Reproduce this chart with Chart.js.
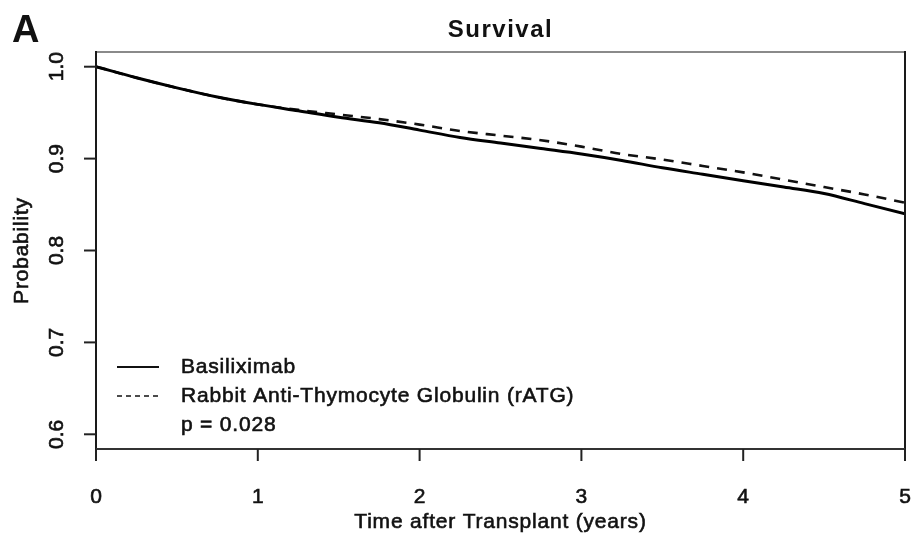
<!DOCTYPE html>
<html>
<head>
<meta charset="utf-8">
<title>Survival</title>
<script src="https://cdn.jsdelivr.net/npm/chart.js@4"></script>
<style>
  html, body { margin: 0; padding: 0; background: #fff; }
  canvas { display: block; }
</style>
</head>
<body>
<canvas id="survivalChart" width="912" height="540"></canvas>
<script>
// Kaplan-Meier estimates, sampled every quarter year
const years = [0, 0.25, 0.5, 0.75, 1, 1.25, 1.5, 1.75, 2, 2.25, 2.5, 2.75, 3, 3.25, 3.5, 3.75, 4, 4.25, 4.5, 4.75, 5];
const basiliximab = [1.000, 0.988, 0.977, 0.967, 0.959, 0.952, 0.945, 0.939, 0.931, 0.923, 0.917, 0.911, 0.905, 0.898, 0.890, 0.883, 0.876, 0.869, 0.862, 0.851, 0.840];
const ratg = [1.000, 0.988, 0.977, 0.967, 0.959, 0.953, 0.948, 0.943, 0.937, 0.930, 0.925, 0.920, 0.913, 0.905, 0.899, 0.892, 0.885, 0.877, 0.869, 0.861, 0.852];

const xTicks = [0, 1, 2, 3, 4, 5];
const yTicks = [0.6, 0.7, 0.8, 0.9, 1.0];
const yTickLabels = ['0.6', '0.7', '0.8', '0.9', '1.0'];

const seriesNames = ['Basiliximab', 'Rabbit Anti-Thymocyte Globulin (rATG)'];
const pValueText = 'p = 0.028';

const FONT = '"Liberation Sans", Arial, Helvetica, sans-serif';

function toPoints(xs, ys) {
    return xs.map((x, i) => ({ x: x, y: ys[i] }));
}

function setSpacing(ctx, px) {
    if ('letterSpacing' in ctx) ctx.letterSpacing = px + 'px';
}

// fill plus a thin outline so the text reads a little heavier
function heavyText(ctx, str, x, y) {
    ctx.save();
    ctx.lineWidth = 0.6;
    ctx.strokeStyle = ctx.fillStyle;
    ctx.setLineDash([]);
    ctx.strokeText(str, x, y);
    ctx.fillText(str, x, y);
    ctx.restore();
}

// R-style frame, ticks, labels and legend drawn on top of the chart
const rStylePlot = {
    id: 'rStylePlot',
    afterDraw(chart) {
        const ctx = chart.ctx;
        const area = chart.chartArea;
        const xs = chart.scales.x;
        const ys = chart.scales.y;

        ctx.save();

        // plot box
        ctx.lineCap = 'butt';
        ctx.strokeStyle = '#8a8a8a';
        ctx.lineWidth = 2;
        ctx.beginPath();
        ctx.moveTo(area.left, area.top);
        ctx.lineTo(area.right, area.top);
        ctx.stroke();

        ctx.strokeStyle = '#1a1a1a';
        ctx.beginPath();
        ctx.moveTo(area.left, area.top - 1);
        ctx.lineTo(area.left, area.bottom + 1);
        ctx.moveTo(area.right, area.top - 1);
        ctx.lineTo(area.right, area.bottom + 1);
        ctx.stroke();

        ctx.strokeStyle = '#333';
        ctx.beginPath();
        ctx.moveTo(area.left, area.bottom);
        ctx.lineTo(area.right, area.bottom);
        ctx.stroke();

        // x axis ticks and labels
        ctx.strokeStyle = '#222';
        ctx.fillStyle = '#111';
        ctx.font = '21px ' + FONT;
        ctx.textAlign = 'center';
        ctx.textBaseline = 'middle';
        xTicks.forEach(t => {
            const px = xs.getPixelForValue(t);
            ctx.beginPath();
            ctx.moveTo(px, area.bottom);
            ctx.lineTo(px, area.bottom + 12);
            ctx.stroke();
            heavyText(ctx, String(t), px, area.bottom + 48);
        });

        // y axis ticks and rotated labels
        yTicks.forEach((v, i) => {
            const py = ys.getPixelForValue(v);
            ctx.beginPath();
            ctx.moveTo(area.left, py);
            ctx.lineTo(area.left - 12, py);
            ctx.stroke();
            ctx.save();
            ctx.translate(area.left - 39, py);
            ctx.rotate(-Math.PI / 2);
            heavyText(ctx, yTickLabels[i], 0, 0);
            ctx.restore();
        });

        // axis titles
        setSpacing(ctx, 0.8);
        ctx.font = '21px ' + FONT;
        heavyText(ctx, 'Time after Transplant (years)', (area.left + area.right) / 2, area.bottom + 73);
        ctx.save();
        ctx.translate(22, (area.top + area.bottom) / 2);
        ctx.rotate(-Math.PI / 2);
        heavyText(ctx, 'Probability', 0, 0);
        ctx.restore();

        // main title and panel letter
        ctx.font = 'bold 24px ' + FONT;
        setSpacing(ctx, 1.5);
        ctx.textBaseline = 'alphabetic';
        ctx.fillText('Survival', (area.left + area.right) / 2, 37);
        setSpacing(ctx, 0);
        ctx.textAlign = 'left';
        ctx.font = 'bold 38px ' + FONT;
        ctx.fillText('A', 12, 42);

        // legend
        const lx0 = area.left + 21;
        const lx1 = area.left + 63;
        const tx = area.left + 85;
        const rows = [area.top + 315, area.top + 344, area.top + 373];
        ctx.strokeStyle = '#111';
        ctx.lineWidth = 2;
        ctx.setLineDash([]);
        ctx.beginPath();
        ctx.moveTo(lx0, rows[0]);
        ctx.lineTo(lx1, rows[0]);
        ctx.stroke();
        ctx.lineWidth = 1.3;
        ctx.setLineDash([5, 4]);
        ctx.beginPath();
        ctx.moveTo(lx0, rows[1]);
        ctx.lineTo(lx1, rows[1]);
        ctx.stroke();
        ctx.setLineDash([]);

        ctx.font = '21px ' + FONT;
        setSpacing(ctx, 0.8);
        ctx.textBaseline = 'middle';
        heavyText(ctx, seriesNames[0], tx, rows[0]);
        heavyText(ctx, seriesNames[1], tx, rows[1]);
        heavyText(ctx, pValueText, tx, rows[2]);

        ctx.restore();
    }
};

new Chart(document.getElementById('survivalChart'), {
    type: 'line',
    data: {
        datasets: [
            {
                label: seriesNames[0],
                data: toPoints(years, basiliximab),
                borderColor: '#000',
                borderWidth: 3,
                pointRadius: 0,
                cubicInterpolationMode: 'monotone',
                fill: false
            },
            {
                label: seriesNames[1],
                data: toPoints(years, ratg),
                borderColor: '#111',
                borderWidth: 2.6,
                borderDash: [10, 8],
                pointRadius: 0,
                cubicInterpolationMode: 'monotone',
                fill: false
            }
        ]
    },
    options: {
        responsive: false,
        animation: false,
        layout: { padding: { left: 96, right: 7, top: 52, bottom: 91 } },
        scales: {
            x: { type: 'linear', min: 0, max: 5, display: false },
            y: { type: 'linear', min: 0.584, max: 1.016, display: false }
        },
        plugins: {
            legend: { display: false },
            tooltip: { enabled: false }
        }
    },
    plugins: [rStylePlot]
});
</script>
</body>
</html>
